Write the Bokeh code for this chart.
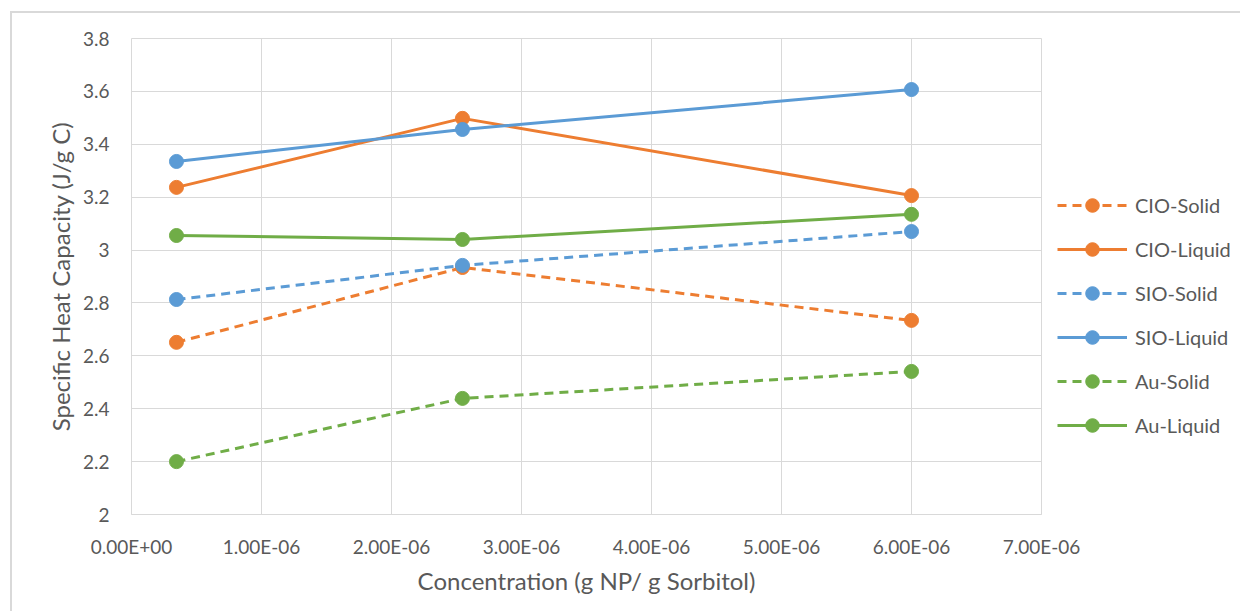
from bokeh.plotting import figure
from bokeh.models import Legend, LegendItem, FixedTicker, CustomJSTickFormatter, Range1d, InlineStyleSheet
from bokeh.embed import file_html
from bokeh.resources import INLINE

conc = [0.346e-6, 2.546e-6, 6.0e-6]
cio_solid = [2.651, 2.934, 2.734]
cio_liquid = [3.237, 3.498, 3.206]
sio_solid = [2.813, 2.942, 3.070]
sio_liquid = [3.335, 3.456, 3.607]
au_solid = [2.200, 2.439, 2.541]
au_liquid = [3.055, 3.040, 3.135]

x_ticks = [0, 1e-6, 2e-6, 3e-6, 4e-6, 5e-6, 6e-6, 7e-6]
y_ticks = [2, 2.2, 2.4, 2.6, 2.8, 3, 3.2, 3.4, 3.6, 3.8]

ORANGE = "#ED7D31"
BLUE = "#5B9BD5"
GREEN = "#70AD47"
FONT = "Lato"
TXT = "#595959"

p = figure(frame_width=910, frame_height=476, output_backend="svg", toolbar_location=None,
           x_range=Range1d(0, 7e-6), y_range=Range1d(2, 3.8),
           min_border_left=131, min_border_right=0, min_border_top=38, min_border_bottom=97)
p.stylesheets = [InlineStyleSheet(css=""":host::after { content: ''; position: absolute; left: 10px; top: 11px;
 width: 1300px; height: 700px; border: 2px solid #d9d9d9; pointer-events: none; box-sizing: border-box; }
:host { overflow: hidden; }""")]
p.outline_line_color = "#d9d9d9"
p.xaxis.ticker = FixedTicker(ticks=x_ticks)
p.yaxis.ticker = FixedTicker(ticks=y_ticks)
p.xaxis.formatter = CustomJSTickFormatter(code="""
var s = tick.toExponential(2).toUpperCase();
var m = s.split('E');
var e = parseInt(m[1]);
var es = (e < 0 ? '-' : '+') + (Math.abs(e) < 10 ? '0' : '') + Math.abs(e);
return m[0] + 'E' + es;
""")
p.yaxis.formatter = CustomJSTickFormatter(code="return String(Math.round(tick*10)/10);")
for ax in (p.xaxis[0], p.yaxis[0]):
    ax.major_tick_line_color = None
    ax.minor_tick_line_color = None
    ax.major_label_text_font = FONT
    ax.major_label_text_font_size = "19px"
    ax.major_label_text_color = TXT
    ax.axis_label_text_font = FONT
    ax.axis_label_text_font_size = "24px"
    ax.axis_label_text_font_style = "normal"
    ax.axis_label_text_color = TXT
p.xaxis.axis_line_color = "#d9d9d9"
p.yaxis.axis_line_color = None
p.xaxis.axis_label = "Concentration (g NP/ g Sorbitol)"
p.yaxis.axis_label = "Specific Heat Capacity (J/g C)"
p.xaxis.major_label_standoff = 14
p.yaxis.major_label_standoff = 16
p.xaxis.axis_label_standoff = 5
p.yaxis.axis_label_standoff = 5
p.xgrid.grid_line_color = "#d9d9d9"
p.ygrid.grid_line_color = "#d9d9d9"
p.background_fill_color = "white"

series = [
    ("CIO-Solid", cio_solid, ORANGE, "9 6"),
    ("CIO-Liquid", cio_liquid, ORANGE, "solid"),
    ("SIO-Solid", sio_solid, BLUE, "9 6"),
    ("SIO-Liquid", sio_liquid, BLUE, "solid"),
    ("Au-Solid", au_solid, GREEN, "9 6"),
    ("Au-Liquid", au_liquid, GREEN, "solid"),
]
items = []
for name, ys, col, dash in series:
    l = p.line(conc, ys, line_color=col, line_width=3, line_dash=dash)
    s = p.scatter(conc, ys, size=14, fill_color=col, line_color=col)
    items.append(LegendItem(label=name, renderers=[l, s]))

legend = Legend(items=items, location=(16, 72))
legend.label_text_font = FONT
legend.label_text_font_size = "20px"
legend.label_text_color = TXT
legend.glyph_width = 70
legend.glyph_height = 34
legend.spacing = 10
legend.border_line_color = None
legend.background_fill_alpha = 0
legend.margin = 0
legend.padding = 0
legend.label_standoff = 8
p.add_layout(legend, "right")

open("out.html", "w").write(file_html(p, INLINE))
